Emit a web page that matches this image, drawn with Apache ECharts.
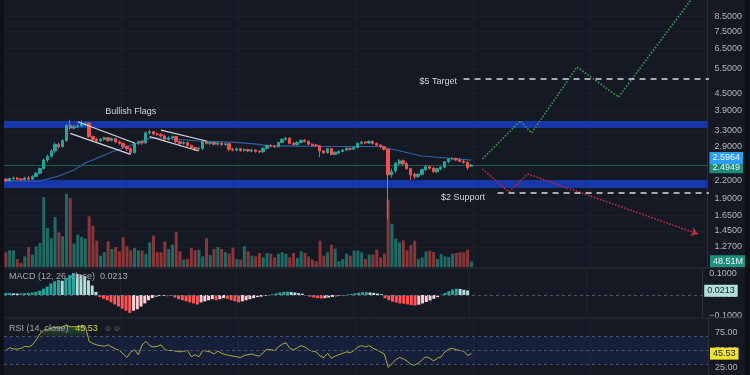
<!DOCTYPE html>
<html><head><meta charset="utf-8">
<script src="https://cdn.jsdelivr.net/npm/echarts@6/dist/echarts.min.js"></script>
<style>
html,body{margin:0;padding:0;background:#0e1016;width:750px;height:375px;overflow:hidden}
#c{position:absolute;left:4px;top:0;width:741px;height:375px;background:#151924}
</style></head><body><div id="c"></div>
<script>
// ---- data ----
const opens=[2.22,2.19,2.23,2.24,2.22,2.21,2.24,2.22,2.27,2.33,
 2.42,2.60,2.68,2.80,2.95,2.90,3.05,3.45,3.38,3.42,
 3.44,3.50,3.52,3.15,3.08,3.04,3.08,3.12,3.05,3.10,
 3.02,2.98,2.90,2.85,2.76,2.98,3.02,2.99,3.25,3.28,
 3.22,3.20,3.17,3.08,3.12,3.15,3.02,2.98,3.00,2.93,
 2.88,2.84,2.86,3.03,2.98,3.00,2.96,2.99,2.95,2.97,
 2.84,2.82,2.85,2.81,2.83,2.80,2.82,2.79,2.78,2.86,
 2.93,2.91,2.90,3.00,3.08,3.11,2.98,2.95,3.00,3.06,
 3.03,2.96,2.94,2.92,2.80,2.76,2.85,2.72,2.75,2.79,
 2.82,2.86,2.84,2.88,2.98,3.01,2.99,3.03,2.98,2.94,
 2.90,2.84,2.30,2.38,2.52,2.58,2.52,2.42,2.31,2.27,
 2.31,2.40,2.46,2.43,2.36,2.42,2.45,2.56,2.62,2.63,
 2.60,2.57,2.55,2.47];
const closes=[2.19,2.23,2.24,2.22,2.21,2.24,2.22,2.27,2.33,2.42,
 2.60,2.68,2.80,2.95,2.90,3.05,3.45,3.38,3.42,3.44,
 3.50,3.52,3.15,3.08,3.04,3.08,3.12,3.05,3.10,3.02,
 2.98,2.90,2.85,2.76,2.98,3.02,2.99,3.25,3.28,3.22,
 3.20,3.17,3.08,3.12,3.15,3.02,2.98,3.00,2.93,2.88,
 2.84,2.86,3.03,2.98,3.00,2.96,2.99,2.95,2.97,2.84,
 2.82,2.85,2.81,2.83,2.80,2.82,2.79,2.78,2.86,2.93,
 2.91,2.90,3.00,3.08,3.11,2.98,2.95,3.00,3.05,3.03,
 2.96,2.93,2.92,2.80,2.76,2.85,2.72,2.77,2.79,2.82,
 2.86,2.84,2.88,2.98,3.01,2.99,3.03,2.98,2.94,2.90,
 2.84,2.30,2.36,2.53,2.58,2.52,2.42,2.30,2.27,2.31,
 2.40,2.46,2.43,2.36,2.42,2.45,2.56,2.62,2.63,2.60,
 2.57,2.55,2.44,2.4949];
const lows=[2.17,2.18,2.21,2.20,2.19,2.20,2.20,2.21,2.26,2.31,
 2.40,2.55,2.65,2.76,2.85,2.88,3.02,3.33,3.34,3.38,
 3.41,3.44,3.12,3.03,3.00,3.02,3.05,3.02,3.03,2.98,
 2.95,2.87,2.80,2.72,2.74,2.94,2.95,2.97,3.20,3.18,
 3.16,3.14,3.05,3.05,3.08,2.98,2.94,2.95,2.90,2.84,
 2.80,2.81,2.82,2.95,2.94,2.93,2.93,2.92,2.92,2.80,
 2.79,2.79,2.78,2.78,2.77,2.77,2.76,2.75,2.76,2.84,
 2.88,2.87,2.88,2.98,3.05,2.96,2.92,2.93,2.98,3.00,
 2.93,2.91,2.90,2.66,2.73,2.74,2.70,2.70,2.73,2.77,
 2.80,2.81,2.82,2.86,2.95,2.96,2.97,2.95,2.91,2.87,
 2.81,1.60,2.25,2.33,2.48,2.48,2.40,2.21,2.22,2.24,
 2.29,2.37,2.40,2.34,2.33,2.39,2.43,2.53,2.59,2.58,
 2.55,2.52,2.40,2.46];
const highs=[2.24,2.25,2.27,2.26,2.24,2.26,2.28,2.29,2.35,2.44,
 2.63,2.72,2.84,3.00,3.00,3.08,3.50,3.62,3.47,3.49,
 3.60,3.56,3.54,3.18,3.12,3.11,3.15,3.14,3.13,3.12,
 3.05,3.00,2.93,2.88,3.00,3.05,3.05,3.28,3.33,3.30,
 3.26,3.24,3.20,3.16,3.18,3.17,3.05,3.03,3.02,2.95,
 2.90,2.89,3.06,3.05,3.03,3.02,3.02,3.01,3.00,2.99,
 2.87,2.88,2.87,2.86,2.85,2.85,2.84,2.82,2.88,2.95,
 2.96,2.94,3.02,3.10,3.14,3.13,3.01,3.03,3.08,3.09,
 3.05,2.98,2.96,2.94,2.82,2.87,2.87,2.79,2.81,2.84,
 2.88,2.88,2.90,3.00,3.04,3.03,3.05,3.05,3.00,2.96,
 2.92,2.86,2.42,2.55,2.62,2.61,2.55,2.44,2.34,2.33,
 2.42,2.49,2.48,2.45,2.44,2.47,2.58,2.64,2.66,2.65,
 2.64,2.60,2.57,2.51];
// volume, millions
const volumes=[126,143,143,68,34,91,171,106,177,205,
 599,334,248,428,297,263,628,591,200,277,
 257,243,434,354,225,97,126,220,154,171,
 134,254,177,143,163,143,140,114,211,268,
 126,126,220,154,191,300,134,63,71,163,
 143,148,91,248,103,154,171,154,126,114,
 166,68,63,177,134,
 97,91,120,83,120,114,83,114,126,114,
 83,120,77,134,120,91,63,49,225,97,
 126,191,157,49,68,114,97,140,140,126,
 68,106,106,148,83,114,577,371,243,211,
 228,143,188,225,68,83,134,140,128,68,
 111,91,86,114,120,126,126,148,48.51];
const macdHist=[0.010,0.010,0.008,0.007,0.008,0.009,0.010,0.012,0.015,0.020,
 0.030,0.040,0.055,0.065,0.072,0.068,0.080,0.095,0.105,0.100,
 0.095,0.090,0.070,0.045,0.015,-0.010,-0.018,-0.025,-0.035,-0.045,
 -0.055,-0.065,-0.075,-0.085,-0.075,-0.068,-0.055,-0.040,-0.025,-0.015,
 -0.008,-0.005,-0.004,-0.006,-0.002,-0.012,-0.020,-0.025,-0.030,-0.035,
 -0.040,-0.045,-0.035,-0.030,-0.025,-0.020,-0.025,-0.020,-0.015,-0.018,
 -0.025,-0.030,-0.035,-0.030,-0.025,-0.020,-0.015,-0.010,-0.008,-0.005,
 -0.002,0.004,0.008,0.012,0.015,0.016,0.014,0.012,0.009,0.006,
 -0.003,-0.008,-0.012,-0.015,-0.017,-0.015,-0.012,-0.009,-0.006,-0.003,
 -0.002,0.002,0.005,0.008,0.011,0.013,0.014,0.012,0.010,0.007,
 0.004,-0.015,-0.025,-0.032,-0.036,-0.040,-0.042,-0.045,-0.048,-0.050,
 -0.046,-0.040,-0.033,-0.026,-0.018,-0.010,0.002,0.010,0.018,0.026,
 0.030,0.029,0.025,0.0213];
const rsiValues=[49.7,54,52,52,53,56,55,58,65,74,
 79,80,82,83,82,84,86,84,84,84,
 85,84,63,60,58,57,56,58,55,52,
 50,45,40,48,51,44,58,63,57,55,
 56,58,51,50,50,49,48,49,50,41,
 44,41,50,49,48,45,49,46,44,43,
 42,41,40,43,44,45,43,42,47,52,
 51,50,55,59,61,53,51,54,57,55,
 51,49,48,42,40,46,39,42,44,46,
 48,47,50,55,57,55,57,53,51,48,
 45,26,31,37,40,38,35,30,29,32,
 37,41,39,35,39,41,48,52,53,51,
 50,49,43,45.53];
// moving average (bar index, price)
const maPoints=[[0,2.186],[9,2.186],[14.3,2.278],[18.2,2.393],[21.4,2.535],[27.5,2.775],[33.6,2.964],[38,3.11],[41.2,3.114],[51.3,3.038],[60.5,3.006],[66.6,2.957],[69,2.923],[83,2.904],[98.8,2.904],[110.2,2.686],[123,2.5964]];
// drawn annotations (bar index, price)
const flagUpper1=[[19.0,3.561],[34.1,2.99]];
const flagLower1=[[16.5,3.237],[33.2,2.723]];
const flagUpper2=[[41.1,3.325],[52.6,3.038]];
const flagLower2=[[37.6,3.148],[51.3,2.798]];
const flagLabelAt=[32.8,3.889];
const bullPath=[[125.5,2.62],[135.8,3.582],[138.7,3.245],[150.9,5.586],[162.2,4.364],[182.6,10.5]];
const bearPath=[[125.5,2.413],[132.6,1.997],[137.6,2.316],[182.6,1.413]];
const targetLine=[[121.3,5.06],[185.5,5.06]];
const supportLine=[[129.7,1.98],[185.5,1.98]];
const resistanceBand=[3.381,3.582];
const supportBand=[2.064,2.204];
const priceTicks=[8.5,7.5,6.5,5.5,4.5,3.9,3.3,2.9,2.2,1.9,1.65,1.45,1.27];
const macdTicks=[0.1,0,-0.1];
const rsiTicks=[75,50,25];
const rsiLevels=[70,50,30];
const lastClose=2.4949, maLast=2.5964, lastVolume=48.51, lastMacd=0.0213, lastRsi=45.53;
const futureSlots=62;

// ---- chart ----
const FONT='"Liberation Sans", Arial, sans-serif';
const N=closes.length;
const categories=Array.from({length:N+futureSlots},(_,i)=>String(i));
const UP='#26a69a', DN='#ef5350', VUP='#1f6b64', VDN='#8a3538';
const candleData=opens.map((o,i)=>[o,closes[i],lows[i],highs[i]]);
const volData=volumes.map((v,i)=>({value:v,itemStyle:{color:closes[i]>=opens[i]?VUP:VDN}}));
const macdData=macdHist.map((v,i)=>{const p=i>0?macdHist[i-1]:0;let c;
 if(v>=0)c=v>=p?'#26a69a':'#b2dfdb';else c=v<=p?'#ff5252':'#ffcdd2';return {value:v,itemStyle:{color:c}};});
const rsiOB=rsiValues.map((v,i)=>[i,v>70?v:null]);

const lbl=(txt,bg,fg,off)=>({show:true,position:'end',formatter:txt,backgroundColor:bg,color:fg,padding:[2,3,1,3],fontSize:9,fontFamily:FONT,distance:2,offset:off||[0,0]});
const hidden={color:'rgba(0,0,0,0)',width:0};

const xAxes=[0,1,2,3].map(g=>({type:'category',gridIndex:g,data:categories,boundaryGap:true,
 axisLine:{show:false},axisTick:{show:false},axisLabel:{show:false},
 splitLine:{show:g!==1,interval:(idx)=>idx>0&&idx%31===0,lineStyle:{color:'#1f2330',width:1}}}));
const axLabel={color:'#b2b5be',fontSize:9,fontFamily:FONT,margin:7};

function pathSeries(data,color,type,width,z){
 return {type:'line',xAxisIndex:0,yAxisIndex:0,data:data,symbol:'none',silent:true,z:z||6,
  lineStyle:{color:color,width:width||1.2,type:type||'solid'}};
}
const textAt=(data,txt,pos,dist,off)=>({type:'line',xAxisIndex:0,yAxisIndex:0,silent:true,z:7,
 symbol:'circle',symbolSize:1,showSymbol:true,itemStyle:{color:'rgba(0,0,0,0)'},lineStyle:{width:0,color:'rgba(0,0,0,0)'},
 data:[{value:data,label:{show:true,position:pos,distance:dist,offset:off||[0,0],formatter:txt,color:'#d1d4dc',fontSize:9,fontFamily:FONT}}]});

const option={
 backgroundColor:'#151924',animation:false,
 grid:[{left:0,right:37,top:0,height:268},{left:0,right:37,top:180,height:87},{left:0,right:37,top:268,height:50},{left:0,right:37,top:318,height:57}],
 xAxis:xAxes,
 yAxis:[
  {type:'log',gridIndex:0,position:'right',logBase:10,min:1.068,max:9.70,
   axisLine:{show:true,lineStyle:{color:'#2a2e39'}},axisTick:{show:false,customValues:priceTicks},
   axisLabel:Object.assign({customValues:priceTicks,formatter:v=>Number(v).toFixed(4)},axLabel),
   splitLine:{show:true,lineStyle:{color:'#1b1f2a'}}},
  {type:'value',gridIndex:1,min:0,max:745,show:false},
  {type:'value',gridIndex:2,position:'right',min:-0.1095,max:0.1286,
   axisLine:{show:true,lineStyle:{color:'#2a2e39'}},axisTick:{show:false,customValues:macdTicks},
   axisLabel:Object.assign({customValues:macdTicks,formatter:v=>(v<0?'\u2212':'')+Math.abs(v).toFixed(4)},axLabel),
   splitLine:{show:false}},
  {type:'value',gridIndex:3,position:'right',min:15,max:96.4,
   axisLine:{show:true,lineStyle:{color:'#2a2e39'}},axisTick:{show:false,customValues:rsiTicks},
   axisLabel:Object.assign({customValues:rsiTicks,formatter:v=>Number(v).toFixed(2)},axLabel),
   splitLine:{show:false}}
 ],
 series:[
  {type:'line',xAxisIndex:0,yAxisIndex:0,data:[],z:1,silent:true,
   markArea:{silent:true,itemStyle:{color:'#1737a8'},data:[[{yAxis:resistanceBand[0]},{yAxis:resistanceBand[1]}],[{yAxis:supportBand[0]},{yAxis:supportBand[1]}]]}},
  {type:'bar',xAxisIndex:1,yAxisIndex:1,data:volData,barWidth:3,z:2,silent:true,
   markLine:{silent:true,symbol:['none','none'],lineStyle:hidden,data:[{yAxis:lastVolume,label:lbl('48.51M','#1f8f7f','#e8f6f3')}]}},
  {type:'candlestick',xAxisIndex:0,yAxisIndex:0,data:candleData,barWidth:2.8,z:5,silent:true,
   itemStyle:{color:UP,color0:DN,borderColor:UP,borderColor0:DN,borderWidth:1},
   markLine:{silent:true,symbol:['none','none'],lineStyle:{color:'#1d5f57',width:1,type:'solid'},
    data:[{yAxis:lastClose,label:lbl('2.4949','#1e8c79','#e6f5f2',[0,2])}]}},
  {type:'line',xAxisIndex:0,yAxisIndex:0,data:maPoints,symbol:'none',z:4,silent:true,
   lineStyle:{color:'#2f63a6',width:1.2},
   markLine:{silent:true,symbol:['none','none'],lineStyle:hidden,data:[{yAxis:maLast,label:lbl('2.5964','#2a9df4','#eef7ff',[0,-2])}]}},
  pathSeries(flagUpper1,'#d5d7dc'),pathSeries(flagLower1,'#d5d7dc'),
  pathSeries(flagUpper2,'#d5d7dc'),pathSeries(flagLower2,'#d5d7dc'),
  textAt(flagLabelAt,'Bullish Flags','inside',0),
  pathSeries(bullPath,'#3a9a4e','dotted',1.6),
  pathSeries(bearPath,'#c22a40','dotted',1.6),
  {type:'lines',coordinateSystem:'cartesian2d',xAxisIndex:0,yAxisIndex:0,silent:true,z:6,
   symbol:['none','arrow'],symbolSize:7,lineStyle:{color:'#c22a40',width:0,opacity:1},
   data:[{coords:[bearPath[2],bearPath[3]]}]},
  pathSeries(targetLine,'#d9d9d9',[6,5],1.5),
  pathSeries(supportLine,'#d9d9d9',[6,5],1.5),
  textAt(targetLine[0],'$5 Target','left',6,[0,2]),
  textAt(supportLine[0],'$2 Support','left',12,[0,4]),
  {type:'bar',xAxisIndex:2,yAxisIndex:2,data:macdData,barWidth:3,z:3,silent:true,
   markLine:{silent:true,symbol:['none','none'],
    data:[{yAxis:0,lineStyle:{color:'#4c5163',width:1,type:[3,3]},label:{show:false}},
          {yAxis:lastMacd,lineStyle:hidden,label:lbl('0.0213','#b2dfdb','#1b1e27')}]}},
  {type:'line',xAxisIndex:3,yAxisIndex:3,data:[],z:1,silent:true,
   markArea:{silent:true,itemStyle:{color:'rgba(41,98,255,0.10)'},data:[[{yAxis:rsiLevels[2]},{yAxis:rsiLevels[0]}]]},
   markLine:{silent:true,symbol:['none','none'],label:{show:false},lineStyle:{type:[3,3],color:'#4c5163',width:1},
    data:rsiLevels.map(v=>({yAxis:v}))}},
  {type:'line',xAxisIndex:3,yAxisIndex:3,data:rsiOB,symbol:'none',z:2,silent:true,connectNulls:false,
   lineStyle:{width:0},
   areaStyle:{origin:70,color:new echarts.graphic.LinearGradient(0,0,0,1,[{offset:0,color:'rgba(76,175,80,0.55)'},{offset:1,color:'rgba(76,175,80,0.12)'}])}},
  {type:'line',xAxisIndex:3,yAxisIndex:3,data:rsiValues,symbol:'none',z:4,silent:true,
   lineStyle:{color:'#b3ab3b',width:1},
   markLine:{silent:true,symbol:['none','none'],lineStyle:hidden,data:[{yAxis:lastRsi,label:lbl('45.53','#f2e230','#1b1e27')}]}}
 ],
 graphic:[
  {type:'line',silent:true,z:100,shape:{x1:0,y1:268,x2:741,y2:268},style:{stroke:'#2a2e39',lineWidth:1}},
  {type:'line',silent:true,z:100,shape:{x1:0,y1:318,x2:741,y2:318},style:{stroke:'#2a2e39',lineWidth:1}},
  {type:'text',left:5,top:272,silent:true,z:100,style:{text:'MACD (12, 26, close)  0.0213',fill:'#a5a8b0',font:'9px '+FONT}},
  {type:'text',left:5,top:323,silent:true,z:100,style:{text:'{a|RSI (14, close)}  {b|45.53}  {c|\u2298 \u2298}',
   rich:{a:{fill:'#a5a8b0',font:'9px '+FONT},b:{fill:'#d8cf3a',font:'9px '+FONT},c:{fill:'#5d616d',font:'8px "DejaVu Sans"'}}}}
 ]
};
const chart=echarts.init(document.getElementById('c'),null,{renderer:'canvas'});
chart.setOption(option);
</script></body></html>
